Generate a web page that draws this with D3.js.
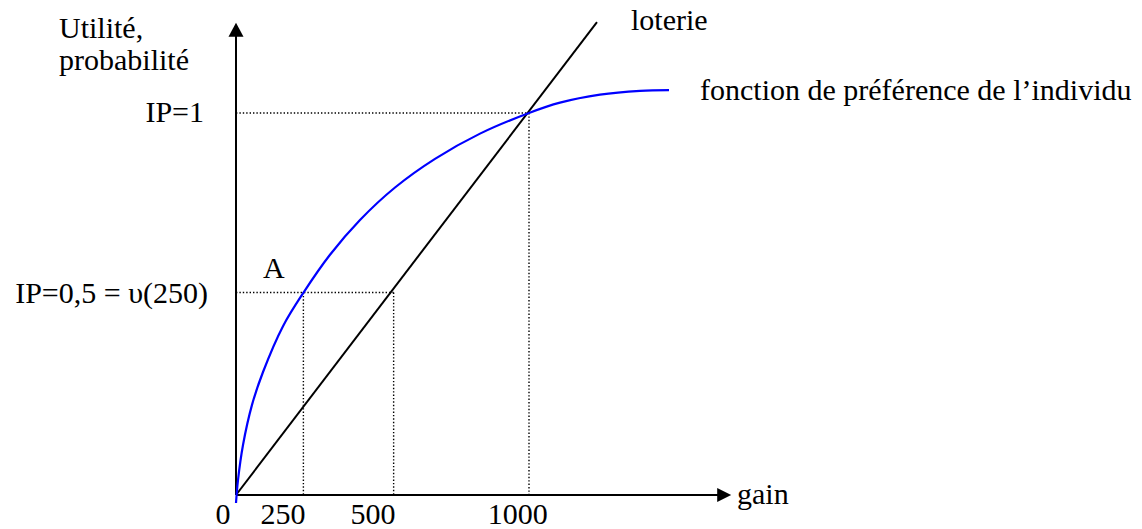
<!DOCTYPE html>
<html>
<head>
<meta charset="utf-8">
<script src="https://d3js.org/d3.v7.min.js"></script>
<style>
    body { margin: 0; background: #fff; }
    svg text { font-family: "Liberation Serif", "Times New Roman", serif; font-size: 30px; fill: #000; }
</style>
</head>
<body>
<div id="chart"></div>
<script>
    // valeurs (gain, utilité)
    var preference = [
        [0, -0.021], [6.8, 0.039], [23.9, 0.131], [54.6, 0.236], [92.2, 0.322],
        [160.4, 0.442], [230.4, 0.530], [320.8, 0.629], [423.2, 0.720], [542.7, 0.805],
        [679.2, 0.880], [832.8, 0.946], [1000, 1.0], [1105.8, 1.027], [1242.3, 1.048],
        [1378.9, 1.058], [1477.8, 1.060]
    ];
    var loterie = [[0, 0], [1232, 1.238]];

    // niveaux en pointillés : IP=1 et IP=0,5
    var levels = [
        {u: 1.0, gains: [1000]},
        {u: 0.53, gains: [230, 538]}
    ];

    var xTickLabels = ["0", "250", "500", "1000"];
    var xTickAt = [-44, 160, 468, 962];

    var width = 1142, height = 529;

    var svg = d3.select("#chart").append("svg")
        .attr("width", width)
        .attr("height", height);

    var x = d3.scaleLinear().domain([0, 1000]).range([236, 529]);
    var y = d3.scaleLinear().domain([0, 1]).range([495, 113]);

    var xMax = 1690, yMax = 1.236;

    // pointillés
    function dotted(x1, y1, x2, y2) {
        svg.append("line")
            .attr("x1", x1).attr("y1", y1)
            .attr("x2", x2).attr("y2", y2)
            .attr("stroke", "#000").attr("stroke-width", 1.4)
            .attr("stroke-dasharray", "1.4,2");
    }
    levels.forEach(function (lv) {
        dotted(x(0), y(lv.u), x(d3.max(lv.gains)), y(lv.u));
        lv.gains.forEach(function (g) {
            dotted(x(g), y(lv.u), x(g), y(0));
        });
    });

    // axes
    svg.append("line")
        .attr("x1", x(0)).attr("y1", y(0))
        .attr("x2", x(0)).attr("y2", y(yMax) + 12)
        .attr("stroke", "#000").attr("stroke-width", 2);
    svg.append("line")
        .attr("x1", x(0)).attr("y1", y(0))
        .attr("x2", x(xMax) - 12).attr("y2", y(0))
        .attr("stroke", "#000").attr("stroke-width", 2);

    var tipY = [x(0), y(yMax)];
    svg.append("path")
        .attr("d", `M${tipY[0]},${tipY[1]} L${tipY[0] - 7.5},${tipY[1] + 14} L${tipY[0] + 7.5},${tipY[1] + 14} Z`)
        .attr("fill", "#000");
    var tipX = [x(xMax), y(0)];
    svg.append("path")
        .attr("d", `M${tipX[0]},${tipX[1]} L${tipX[0] - 14},${tipX[1] - 7} L${tipX[0] - 14},${tipX[1] + 7} Z`)
        .attr("fill", "#000");

    var line = d3.line()
        .x(function (d) { return x(d[0]); })
        .y(function (d) { return y(d[1]); });

    svg.append("path")
        .datum(loterie)
        .attr("d", line)
        .attr("fill", "none")
        .attr("stroke", "#000")
        .attr("stroke-width", 2);

    svg.append("path")
        .datum(preference)
        .attr("d", line.curve(d3.curveCatmullRom.alpha(0.5)))
        .attr("fill", "none")
        .attr("stroke", "#0000ff")
        .attr("stroke-width", 2.2);

    // textes
    svg.append("text").attr("x", 59).attr("y", 38).text("Utilité,");
    svg.append("text").attr("x", 59).attr("y", 70).text("probabilité");
    svg.append("text").attr("x", 204).attr("y", 122)
        .attr("text-anchor", "end").text("IP=1");
    svg.append("text").attr("x", 208).attr("y", 303)
        .attr("text-anchor", "end").text("IP=0,5 = υ(250)");
    svg.append("text").attr("x", 263).attr("y", 278).text("A");
    svg.append("text").attr("x", 631).attr("y", 30).text("loterie");
    svg.append("text").attr("x", 700).attr("y", 100).text("fonction de préférence de l’individu");
    svg.append("text").attr("x", 737).attr("y", 504).text("gain");

    svg.selectAll(".xlab")
        .data(xTickLabels)
        .enter()
        .append("text")
        .attr("class", "xlab")
        .attr("x", function (d, i) { return x(xTickAt[i]); })
        .attr("y", 524)
        .attr("text-anchor", "middle")
        .text(function (d) { return d; });
</script>
</body>
</html>
